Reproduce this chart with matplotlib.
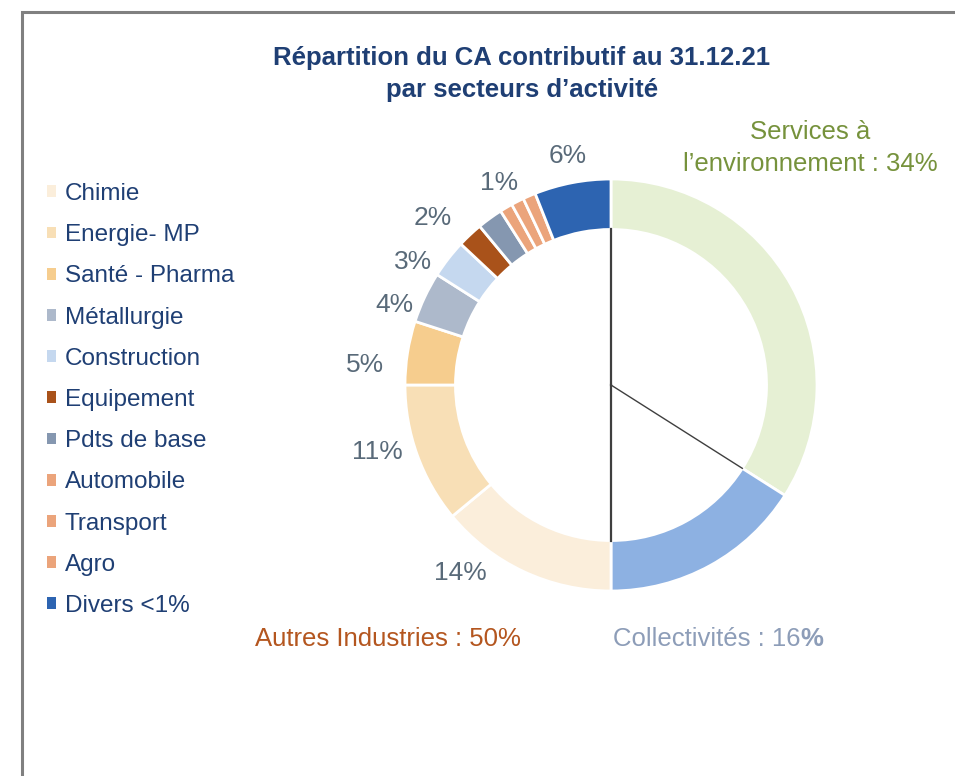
import matplotlib
import numpy as np

matplotlib.use('Agg')
import matplotlib.pyplot as plt
from matplotlib.patches import Patch, Rectangle

plt.rcParams['font.family'] = ['Liberation Sans', 'DejaVu Sans']

# sectors, clockwise from 12 o'clock
sectors = ['Services à l\u2019environnement', 'Collectivités', 'Chimie', 'Energie- MP',
           'Santé - Pharma', 'Métallurgie', 'Construction', 'Equipement',
           'Pdts de base', 'Automobile', 'Transport', 'Agro', 'Divers <1%']
shares = [34, 16, 14, 11, 5, 4, 3, 2, 2, 1, 1, 1, 6]
colors = ['#E6F0D4', '#8DB1E2', '#FBEEDB', '#F8DFB6', '#F6CD8E', '#ADB9CB',
          '#C5D8EF', '#A9521A', '#8597B0', '#EBA47B', '#EBA47B', '#EBA47B', '#2D64B1']
pct_labels = ['', '', '14%', '11%', '5%', '4%', '3%', '2%', '', '1%', '', '', '6%']
# small nudges of the outside labels (degrees, radius units)
label_turn = [0, 0, -13.4, -3.8, 4.4, 4.9, 6.0, 3.6, 0, -1.6, 0, 0, 0]
label_dist = [0, 0, 1.17, 1.18, 1.20, 1.12, 1.13, 1.185, 0, 1.12, 0, 0, 1.134]

groups = ['Services à\nl\u2019environnement : 34%', 'Collectivités : 16', 'Autres Industries : 50%']

navy = '#1F3F74'
grey_lbl = '#596A79'

W, H = 955, 776
fig = plt.figure(figsize=(W / 100, H / 100), dpi=100)

# frame of the original slide (cut on right and bottom)
fig.patches.append(Rectangle((22 / W, -0.1), 2, 1.1 - 12 / H, transform=fig.transFigure,
                             fill=False, edgecolor='#808080', linewidth=2.2))

cx, cy, r_px, half = 611, 385, 206, 235
ax = fig.add_axes([(cx - half) / W, (H - cy - half) / H, 2 * half / W, 2 * half / H])
ring = 0.245
wedges, _ = ax.pie(shares, colors=colors, startangle=90, counterclock=False,
                   wedgeprops=dict(width=ring, edgecolor='white', linewidth=2))
ax.set_xlim(-half / r_px, half / r_px)
ax.set_ylim(-half / r_px, half / r_px)
ax.axis('off')

for w, lab, turn, d in zip(wedges, pct_labels, label_turn, label_dist):
    if not lab:
        continue
    a = np.deg2rad((w.theta1 + w.theta2) / 2 + turn)
    ax.text(d * np.cos(a), d * np.sin(a), lab, ha='center', va='center',
            fontsize=19, color=grey_lbl)

# group separators
r_in = 1 - ring
for ang, lw in [(wedges[0].theta2, 1.6), (wedges[1].theta1, 1.6), (wedges[0].theta1, 1.0)]:
    a = np.deg2rad(ang)
    ax.plot([0, r_in * np.cos(a)], [0, r_in * np.sin(a)], color='#3F3F3F', lw=lw)

fig.text(522 / W, 1 - 74 / H, 'Répartition du CA contributif au 31.12.21\npar secteurs d\u2019activité',
         ha='center', va='center', fontsize=18.5, fontweight='bold', color=navy, linespacing=1.45)

fig.text(810 / W, 1 - 148 / H, groups[0], ha='center', va='center', fontsize=18.5,
         color='#76923C', linespacing=1.42)
fig.text(388 / W, 1 - 639 / H, groups[2], ha='center', va='center', fontsize=18.5, color='#B4561F')
t = fig.text(613 / W, 1 - 639 / H, groups[1], ha='left', va='center', fontsize=18.5, color='#8D9DB8')
ax.annotate('%', xy=(1, 0), xycoords=t, ha='left', va='bottom', fontsize=18.5,
            fontweight='bold', color='#8D9DB8')

handles = [Patch(facecolor=c, linewidth=0) for c in colors[2:]]
fig.legend(handles=handles, labels=sectors[2:], loc='upper left',
           bbox_to_anchor=(47 / W, 1 - 183 / H), frameon=False, fontsize=17.5,
           labelcolor=navy, handlelength=0.38, handleheight=0.38, handletextpad=0.35,
           labelspacing=0.79, borderaxespad=0, borderpad=0)

fig.savefig('out.png', dpi=100)
